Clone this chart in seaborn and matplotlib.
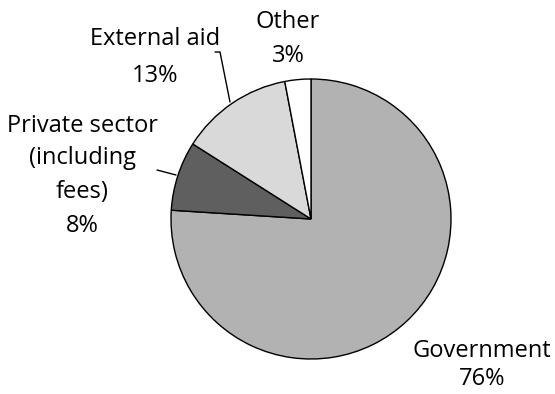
import matplotlib
matplotlib.use("Agg")
import matplotlib.pyplot as plt
import seaborn as sns

# Sources of funding (share of total)
categories = ["Government", "Private sector\n(including\nfees)", "External aid", "Other"]
shares = [76, 8, 13, 3]
colors = ["#b2b2b2", "#5f5f5f", "#d9d9d9", "#ffffff"]

sns.set_theme(style="white")
plt.rcParams["font.family"] = ["Open Sans", "DejaVu Sans"]

W, H = 555, 394
fig = plt.figure(figsize=(W / 100, H / 100), dpi=100)
cx, cy, r = 311, 219, 140
ax = fig.add_axes([(cx - r) / W, (H - cy - r) / H, 2 * r / W, 2 * r / H])

ax.pie(shares, colors=colors, startangle=90, counterclock=False,
       wedgeprops=dict(edgecolor="black", linewidth=1.0))
ax.set_xlim(-1, 1)
ax.set_ylim(-1, 1)
ax.set_axis_off()

def px(x, y):
    return ((x - cx) / r, (cy - y) / r)

# label layout: centre x and the baseline of each text line (pixels)
label_layout = {
    "Government": (482, [357, 385]),
    "Private sector\n(including\nfees)": (82, [132, 164, 198, 232]),
    "External aid": (155, [45, 82]),
    "Other": (288, [28, 62]),
}
for name, val in zip(categories, shares):
    lines = name.split("\n") + [f"{val}%"]
    xc, baselines = label_layout[name]
    for line, yb in zip(lines, baselines):
        x, y = px(xc, yb)
        ax.text(x, y, line, ha="center", va="baseline", fontsize=17,
                color="black", clip_on=False)

# leader lines
for pts in ([(230, 102), (220, 52), (215, 52)], [(176, 175), (157, 170)]):
    xs, ys = zip(*[px(*p) for p in pts])
    ax.plot(xs, ys, color="black", linewidth=1.0, clip_on=False)

fig.savefig("out.png", dpi=100)
